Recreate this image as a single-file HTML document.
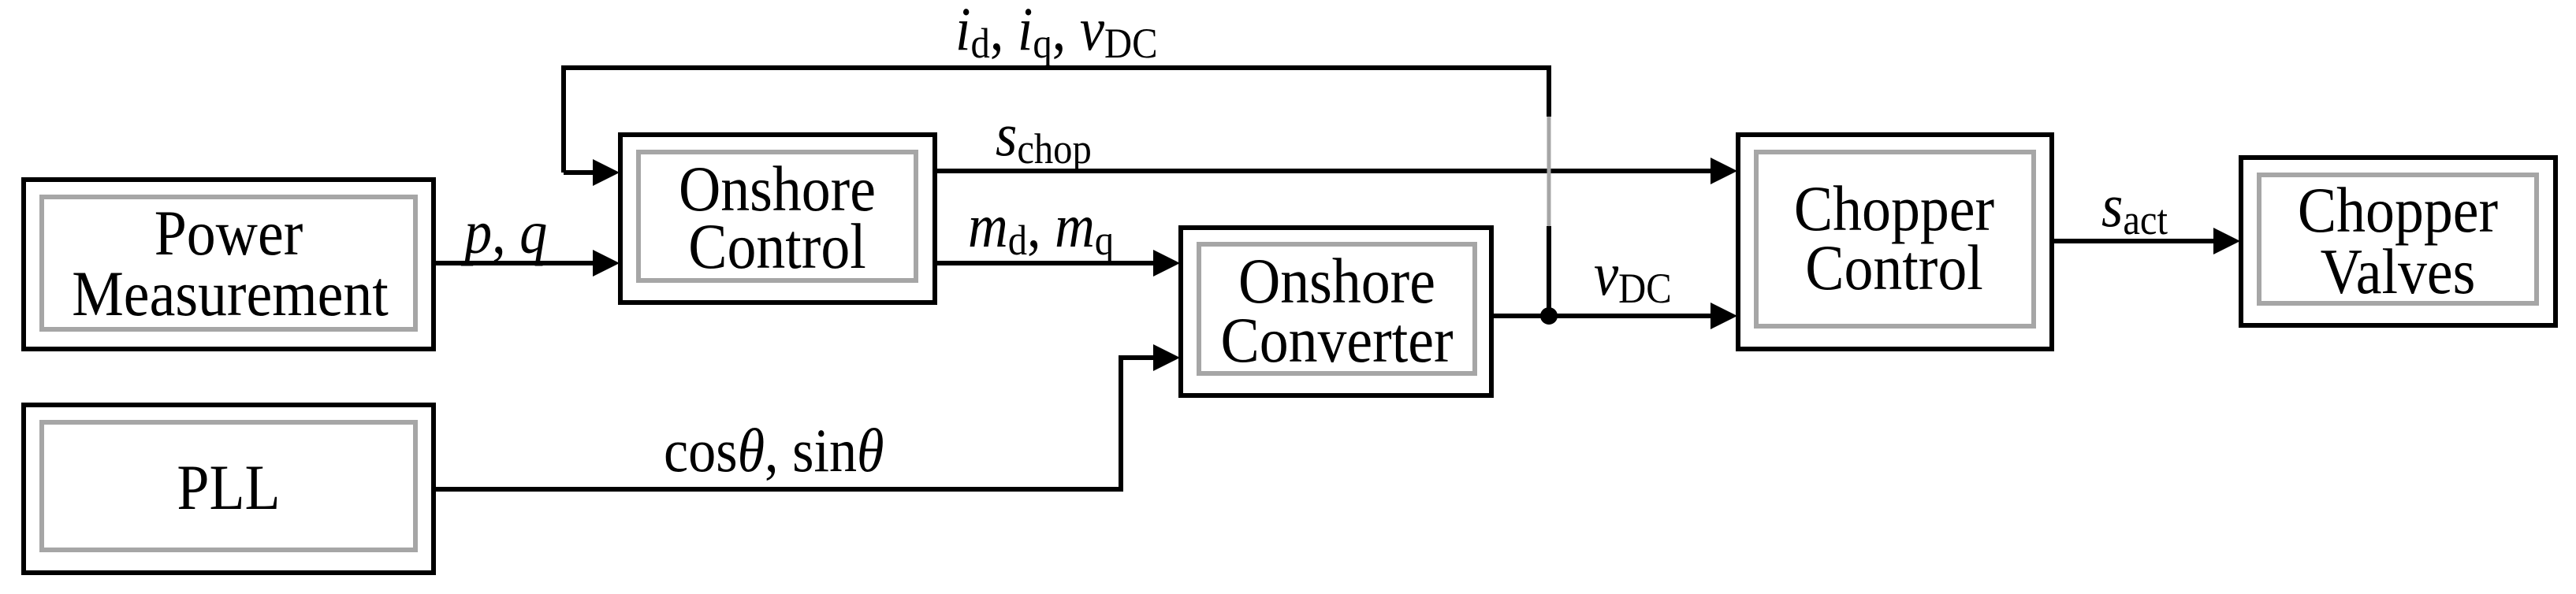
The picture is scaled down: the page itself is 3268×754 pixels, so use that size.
<!DOCTYPE html>
<html><head><meta charset="utf-8"><style>html,body{margin:0;padding:0;background:#fff}svg{display:block}</style></head><body>
<svg width="3268" height="754" viewBox="0 0 3268 754" xmlns="http://www.w3.org/2000/svg" font-family="Liberation Serif, serif">
<g fill="none" stroke-linejoin="miter">
<!-- boxes outer -->
<g stroke="#000" stroke-width="6">
<rect x="30" y="228" width="520" height="215"/>
<rect x="30" y="514" width="520" height="213"/>
<rect x="787" y="171" width="399" height="213"/>
<rect x="1498" y="289" width="394" height="213"/>
<rect x="2205" y="171" width="398" height="272"/>
<rect x="2843" y="200" width="399" height="213"/>
</g>
<g stroke="#a6a6a6" stroke-width="6">
<rect x="53" y="250" width="474" height="168"/>
<rect x="53" y="536" width="474" height="162"/>
<rect x="810" y="193" width="352" height="163"/>
<rect x="1521" y="310" width="350" height="164"/>
<rect x="2228" y="193" width="352" height="221"/>
<rect x="2866" y="222" width="352" height="163"/>
</g>
<!-- connectors -->
<g stroke="#000" stroke-width="6">
<polyline points="715,219 715,86 1965,86 1965,148"/>
<line x1="1965" y1="287" x2="1965" y2="401"/>
<line x1="715" y1="219" x2="755" y2="219"/>
<line x1="1186" y1="217" x2="2172" y2="217"/>
<line x1="550" y1="334" x2="755" y2="334"/>
<line x1="1186" y1="334" x2="1466" y2="334"/>
<polyline points="550,621 1422,621 1422,454 1466,454"/>
<line x1="1892" y1="401" x2="2172" y2="401"/>
<line x1="2603" y1="306" x2="2810" y2="306"/>
</g>
<line x1="1965" y1="148" x2="1965" y2="287" stroke="#a6a6a6" stroke-width="5"/>
</g>
<g fill="#000">
<circle cx="1965" cy="401" r="11"/>
<polygon points="752,202 786,219 752,236"/>
<polygon points="752,317 786,334 752,351"/>
<polygon points="1463,317 1497,334 1463,351"/>
<polygon points="1463,437 1497,454 1463,471"/>
<polygon points="2170,200 2204,217 2170,234"/>
<polygon points="2170,384 2204,401 2170,418"/>
<polygon points="2808,289 2842,306 2808,323"/>
</g>
<!-- box text -->
<g font-size="82" text-anchor="middle" fill="#000">
<text transform="translate(290,323) scale(0.9,1)">Power</text>
<text transform="translate(292,400) scale(0.9,1)">Measurement</text>
<text transform="translate(290,646) scale(0.9,1)">PLL</text>
<text transform="translate(986,267) scale(0.9,1)">Onshore</text>
<text transform="translate(986,340) scale(0.9,1)">Control</text>
<text transform="translate(1696,384) scale(0.9,1)">Onshore</text>
<text transform="translate(1696,459) scale(0.9,1)">Converter</text>
<text transform="translate(2403,292) scale(0.9,1)">Chopper</text>
<text transform="translate(2403,367) scale(0.9,1)">Control</text>
<text transform="translate(3042,294) scale(0.9,1)">Chopper</text>
<text transform="translate(3042,372) scale(0.9,1)">Valves</text>
</g>
<!-- labels -->
<g font-size="78" fill="#000">
<text transform="translate(1212,63) scale(0.9,1)"><tspan font-style="italic">i</tspan><tspan font-size="54" dy="10">d</tspan><tspan dy="-10">, </tspan><tspan font-style="italic">i</tspan><tspan font-size="54" dy="10">q</tspan><tspan dy="-10">, </tspan><tspan font-style="italic">v</tspan><tspan font-size="54" dy="10">DC</tspan></text>
<text transform="translate(589,321) scale(0.9,1)"><tspan font-style="italic">p</tspan>, <tspan font-style="italic">q</tspan></text>
<text transform="translate(1263,197) scale(0.9,1)"><tspan font-style="italic">s</tspan><tspan font-size="54" dy="10">chop</tspan></text>
<text transform="translate(1228,313) scale(0.9,1)"><tspan font-style="italic">m</tspan><tspan font-size="54" dy="10">d</tspan><tspan dy="-10">, </tspan><tspan font-style="italic">m</tspan><tspan font-size="54" dy="10">q</tspan></text>
<text transform="translate(842,598) scale(0.9,1)">cos<tspan font-style="italic">θ</tspan>, sin<tspan font-style="italic">θ</tspan></text>
<text transform="translate(2022,374) scale(0.9,1)"><tspan font-style="italic">v</tspan><tspan font-size="54" dy="10">DC</tspan></text>
<text transform="translate(2666,287) scale(0.9,1)"><tspan font-style="italic">s</tspan><tspan font-size="54" dy="10">act</tspan></text>
</g>
</svg>
</body></html>
